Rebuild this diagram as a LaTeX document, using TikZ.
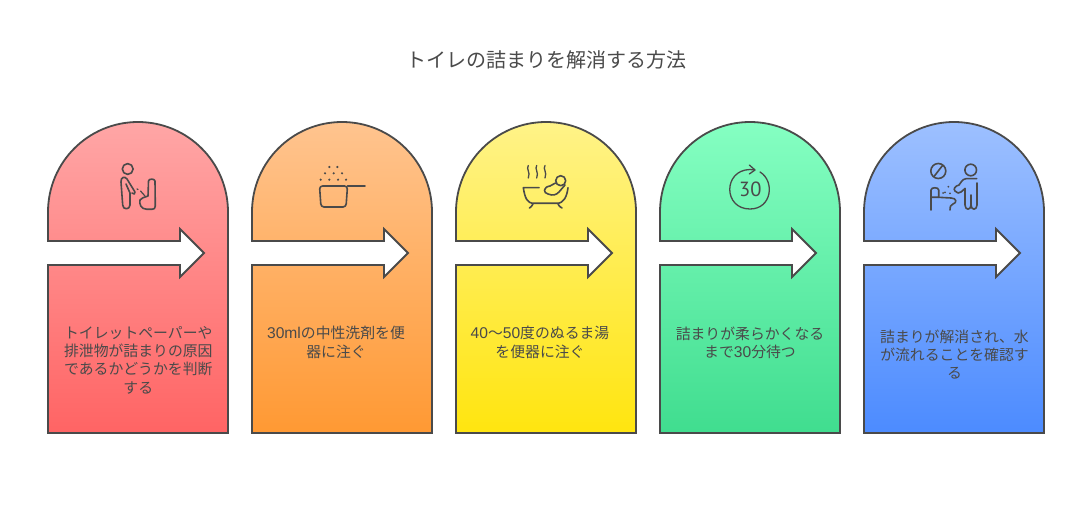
\documentclass[tikz,border=0pt]{standalone}
\usepackage{fontspec}
\setmainfont{Noto Sans CJK JP}
\newfontfamily\latf[Scale=1.05]{Liberation Sans}
\newfontfamily\numf{PT Sans}
\definecolor{ink}{HTML}{4A4A4A}
\definecolor{redT}{HTML}{FFA6A6}\definecolor{redB}{HTML}{FF6464}
\definecolor{oraT}{HTML}{FFC48F}\definecolor{oraB}{HTML}{FF9933}
\definecolor{yelT}{HTML}{FFF388}\definecolor{yelB}{HTML}{FFE50F}
\definecolor{greT}{HTML}{85FFC2}\definecolor{greB}{HTML}{40DD8F}
\definecolor{bluT}{HTML}{9DC0FF}\definecolor{bluB}{HTML}{4C8BFF}
\tikzset{
  panel/.style={draw=ink,line width=1.8pt,line join=miter},
  icon/.style={draw=ink,line width=1.6pt,line cap=round,line join=round},
  dotmark/.style={fill=ink,draw=none},
  body/.style={text=ink,align=center,font=\fontsize{14.85pt}{18.3pt}\selectfont,inner sep=0pt},
  titletext/.style={text=ink,font=\fontsize{20pt}{24pt}\selectfont,inner sep=0pt},
}
\newcommand{\panelshape}[3]{%
  \path[panel,top color=#2,bottom color=#3]
    (#1,212) arc[start angle=180,end angle=360,radius=90]
    -- (#1+180,433) -- (#1,433) -- (#1,265) -- (#1+132,265) -- (#1+132,277)
    -- (#1+156,253) -- (#1+132,229) -- (#1+132,241) -- (#1,241) -- cycle;}
\begin{document}
\begin{tikzpicture}[x=1pt,y=-1pt]
\useasboundingbox[fill=white] (0,0) rectangle (1092,505);
\node[titletext] (title) at (546.5,59.5) {トイレの詰まりを解消する方法};

\panelshape{48}{redT}{redB}
\panelshape{252}{oraT}{oraB}
\panelshape{456}{yelT}{yelB}
\panelshape{660}{greT}{greB}
\panelshape{864}{bluT}{bluB}

\node[body] (t1) at (138.3,360) {トイレットペーパーや\\排泄物が詰まりの原因\\であるかどうかを判断\\する};
\node[body] (t2) at (336,342.5) {{\latf 30ml}の中性洗剤を便\\器に注ぐ};
\node[body] (t3) at (540,342.5) {{\latf 40}〜{\latf 50}度のぬるま湯\\を便器に注ぐ};
\node[body] (t4) at (750,342.5) {詰まりが柔らかくなる\\まで{\latf 30}分待つ};
\node[body] (t5) at (954.5,354.5) {詰まりが解消され、水\\が流れることを確認す\\る};

% icon 1: person at urinal
\draw[icon] (127.7,169) circle[radius=5.4];
\draw[icon] (126,184) -- (130,193) -- (130,205) .. controls (130,210) and (122.7,210) .. (122.7,205)
  -- (121,182) .. controls (120.5,177) and (125,176) .. (127,179) -- (135,192) .. controls (136,194) and (133,195) .. (132,193);
\draw[icon,line width=1.2pt] (137,189) -- (138,189.5) (140.5,191) -- (145,196);
\draw[icon] (148,196) -- (148.5,181) .. controls (148.5,178.5) and (155,178.5) .. (155,181)
  -- (155.3,206) .. controls (155.3,208.5) and (154,209.3) .. (152,209.3) -- (147,209.3)
  .. controls (141,209.3) and (139,204) .. (140,200) .. controls (141,198) and (144,197.5) .. (148,196);

% icon 2: pot with grains
\draw[icon,rounded corners=3pt] (319.5,186) -- (321,207) -- (346,207) -- (347.5,186) -- cycle;
\draw[icon] (347.5,186) -- (365,186);
\foreach \dx/\dy in {320.7/179.7,329.3/179.7,338/179.7,346/179.7,325/173.3,333.7/173.3,342/173.3,329.3/167,337.3/167}
  \fill[dotmark] (\dx,\dy) circle[radius=1.2];

% icon 3: bath
\foreach \sx in {528.3,536.7,545}
  \draw[icon,line width=1.3pt] (\sx,165.5) .. controls (\sx-2.5,169) and (\sx+2.5,172) .. (\sx,178);
\draw[icon] (539,187.7) -- (523.3,187.7) .. controls (525,198) and (527,203.3) .. (534,203.3)
  -- (557,203.3) .. controls (564,203.3) and (567,196) .. (568,187.7);
\draw[icon] (533,204) .. controls (532,206) and (531,207) .. (529.5,208);
\draw[icon] (558,204) .. controls (559,206) and (560,207) .. (562,208);
\draw[icon] (560.7,180.7) circle[radius=5];
\draw[icon] (555.5,183) -- (550,186) .. controls (543,187) and (543,193) .. (548,194)
  .. controls (553,196) and (556,195) .. (559,192) -- (565,185);

% icon 4: 30 with circular arrow
\draw[icon,line width=1.3pt] (760,172) .. controls (775,181) and (772,209) .. (750,209)
  .. controls (723,209) and (723,170) .. (750,169.5) -- (754.5,170);
\draw[icon,line width=1.3pt] (749.3,165) -- (755,170) -- (749.3,174);
\node[text=ink,inner sep=0pt,font=\numf\fontsize{20.5pt}{21pt}\selectfont] (thirty) at (750.3,189.5) {30};

% icon 5: hand washing
\draw[icon] (938.3,171) circle[radius=7.5];
\draw[icon] (934,176.5) -- (942.5,165.5);
\draw[icon] (970.7,170) circle[radius=5.8];
\draw[icon] (976.7,178.7) -- (966,178.7) .. controls (962,179) and (961,183) .. (959,185)
  .. controls (955,186) and (953,189) .. (955,191) .. controls (957,193) and (959,194) .. (961,192) -- (965,188.5);
\draw[icon] (965,188.5) -- (965,205) .. controls (965,210.5) and (971,210.5) .. (971,205) -- (971,195)
  (971,205) .. controls (971,210.5) and (977,210.5) .. (977,205) -- (977,183);
\draw[icon] (931,210) -- (931,190) .. controls (931,187) and (938.7,187) .. (938.7,190) -- (938.7,197.3) -- (931,197.3);
\draw[icon] (938.7,197.3) -- (951,198) .. controls (957,198) and (957,203) .. (953,204) .. controls (950,205) and (950,207) .. (950,210);
\foreach \dx/\dy in {948.3/186.7,945/192.3,950/193.3,943/193}
  \fill[dotmark] (\dx,\dy) circle[radius=1];
\end{tikzpicture}
\end{document}
